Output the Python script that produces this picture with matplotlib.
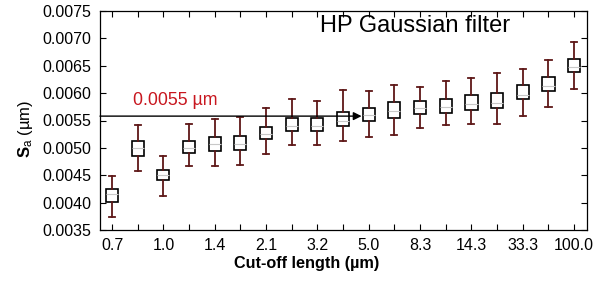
import matplotlib
matplotlib.use("Agg")
import matplotlib.pyplot as plt

plt.rcParams['font.family'] = ['Liberation Sans', 'DejaVu Sans']
plt.rcParams['mathtext.fontset'] = 'custom'
plt.rcParams['mathtext.rm'] = 'Liberation Sans'
plt.rcParams['mathtext.bf'] = 'Liberation Sans:bold'
plt.rcParams['mathtext.it'] = 'Liberation Sans:italic'

# Cut-off length categories (labels shown every other position)
tick_labels = ["0.7", "", "1.0", "", "1.4", "", "2.1", "", "3.2", "", "5.0",
               "", "8.3", "", "14.3", "", "33.3", "", "100.0"]

# Box-plot statistics (µm)
whisker_low = [0.00373, 0.00457, 0.00412, 0.00466, 0.00466, 0.00468, 0.00488,
               0.00505, 0.00505, 0.00513, 0.00520, 0.00524, 0.00537, 0.00542,
               0.00544, 0.00543, 0.00558, 0.00575, 0.00607]
q1 = [0.00401, 0.00485, 0.00441, 0.00491, 0.00495, 0.00496, 0.00516,
      0.00530, 0.00531, 0.00540, 0.00549, 0.00555, 0.00562, 0.00564,
      0.00570, 0.00572, 0.00589, 0.00604, 0.00638]
median = [0.00416, 0.00500, 0.00450, 0.00500, 0.00507, 0.00507, 0.00525,
          0.00540, 0.00540, 0.00550, 0.00560, 0.00568, 0.00573, 0.00575,
          0.00580, 0.00582, 0.00597, 0.00613, 0.00648]
q3 = [0.00424, 0.00513, 0.00460, 0.00512, 0.00520, 0.00522, 0.00538,
      0.00554, 0.00554, 0.00566, 0.00572, 0.00583, 0.00586, 0.00590,
      0.00597, 0.00600, 0.00614, 0.00629, 0.00663]
whisker_high = [0.00449, 0.00541, 0.00485, 0.00544, 0.00552, 0.00557, 0.00572,
                0.00589, 0.00586, 0.00606, 0.00604, 0.00615, 0.00611, 0.00622,
                0.00628, 0.00636, 0.00644, 0.00660, 0.00694]

ref_value = 0.00558
ref_label = "0.0055 µm"
title_text = "HP Gaussian filter"

fig = plt.figure(figsize=(6.07, 2.82), dpi=100)
ax = fig.add_axes([100/607, 1-230/282, 487/607, 219/282])

stats = []
for i in range(len(q1)):
    stats.append(dict(whislo=whisker_low[i], q1=q1[i], med=median[i],
                      q3=q3[i], whishi=whisker_high[i], fliers=[]))
positions = list(range(len(stats)))
wcol = '#5e1717'
ax.bxp(stats, positions=positions, widths=0.47, patch_artist=True,
       showfliers=False,
       boxprops=dict(facecolor='white', edgecolor='black', linewidth=1.2),
       medianprops=dict(color='#c8c8c8', linewidth=0.8),
       whiskerprops=dict(color=wcol, linewidth=1.3),
       capprops=dict(color=wcol, linewidth=1.3))

ax.set_xlim(-0.47, 18.5)
ax.set_ylim(0.0035, 0.0075)
ax.set_xticks(positions)
ax.set_xticklabels(tick_labels)
ax.set_yticks([0.0035 + 0.0005*k for k in range(9)])
ax.yaxis.set_major_formatter(matplotlib.ticker.FormatStrFormatter('%.4f'))
ax.tick_params(direction='in', top=True, right=True, length=4, width=0.8,
               labelsize=11.5)
ax.tick_params(axis='x', pad=6)
ax.tick_params(axis='y', pad=6)
for s in ax.spines.values():
    s.set_linewidth(0.9)

# reference line with arrow
ax.annotate('', xy=(9.72, ref_value), xytext=(-0.47, ref_value),
            arrowprops=dict(arrowstyle='-|>', color='black', lw=1.0,
                            mutation_scale=12, shrinkA=0, shrinkB=0))
ax.text(0.82, 0.005774, ref_label, color='#c8171f', fontsize=12.8,
        va='baseline', ha='left')
ax.text(8.1, 0.00711, title_text, color='black', fontsize=17,
        va='baseline', ha='left')

ax.set_xlabel('Cut-off length (µm)', fontsize=11.7, fontweight='bold')
ax.xaxis.set_label_coords(0.424, -0.117)
ax.set_ylabel(r'$\mathbf{S}_{\mathrm{a}}$ (µm)', fontsize=12)
ax.yaxis.set_label_coords(-0.133, 0.461)

fig.savefig('out.png', dpi=100)
